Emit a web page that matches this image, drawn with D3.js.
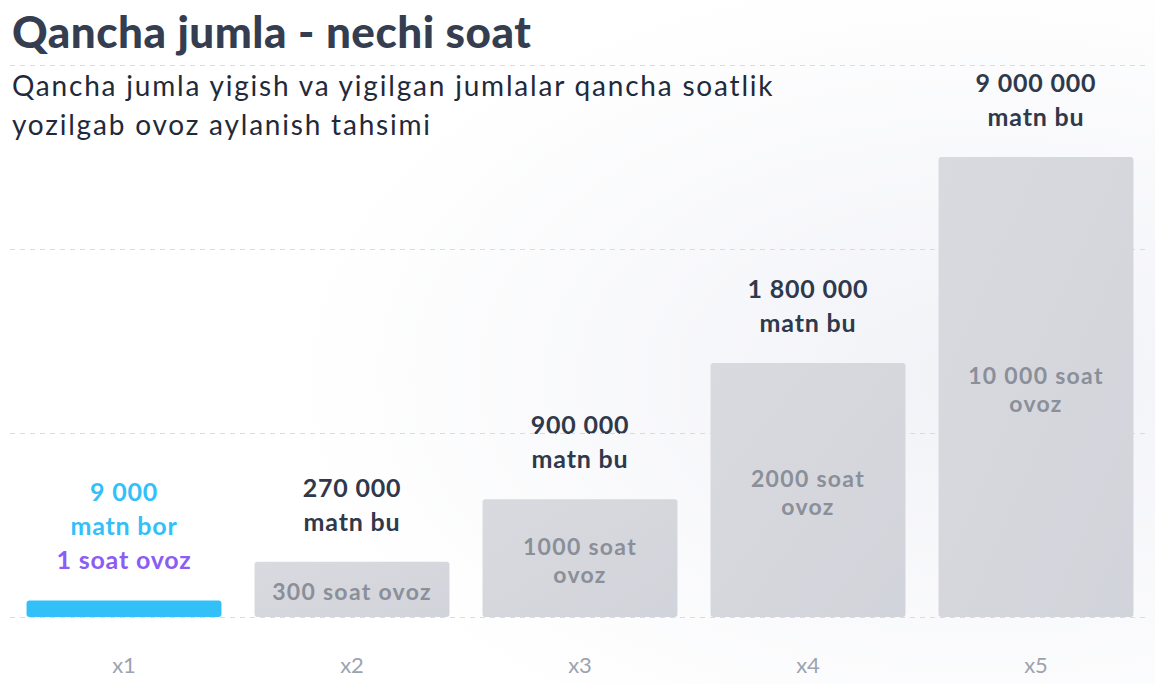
<!DOCTYPE html>
<html><head><meta charset="utf-8">
<script src="https://cdn.jsdelivr.net/npm/d3@7"></script>
<style>
html,body{margin:0;padding:0;background:#fff;}
svg{display:block;font-family:Lato,"Open Sans",sans-serif;}
</style></head>
<body><svg id="c" width="1155" height="684"></svg>
<script>
const categories = ["x1","x2","x3","x4","x5"];
const values = [9, 30, 64, 138, 250];
const topLabels = [["9 000","matn bor","1 soat ovoz"],["270 000","matn bu"],["900 000","matn bu"],["1 800 000","matn bu"],["9 000 000","matn bu"]];
const innerLabels = [[],["300 soat ovoz"],["1000 soat","ovoz"],["2000 soat","ovoz"],["10 000 soat","ovoz"]];
const gridTicks = [0, 100, 200, 300];
const title = "Qancha jumla - nechi soat";
const subtitle = ["Qancha jumla yigish va yigilgan jumlalar qancha soatlik","yozilgab ovoz aylanish tahsimi"];

const svg = d3.select("#c");
const W = 1155, H = 684;
const defs = svg.append("defs");
const rg = defs.append("radialGradient").attr("id","bg").attr("cx","0.85").attr("cy","0.55").attr("r","0.6");
rg.append("stop").attr("offset","0").attr("stop-color","#f1f2f7");
rg.append("stop").attr("offset","1").attr("stop-color","#ffffff");
svg.append("rect").attr("width",W).attr("height",H).attr("fill","url(#bg)");
const bg = defs.append("linearGradient").attr("id","barg").attr("x1","0").attr("y1","0").attr("x2","1").attr("y2","1");
bg.append("stop").attr("offset","0").attr("stop-color","#d9dadf");
bg.append("stop").attr("offset","1").attr("stop-color","#d2d4db");

const x = d3.scaleBand().domain(categories).range([10,1150]).paddingInner(0.145).paddingOuter(0.0725);
const y = d3.scaleLinear().domain([0,300]).range([617,65]);

const g = svg.append("g");
g.selectAll("rect.bar").data(values).join("rect")
  .attr("class","bar")
  .attr("x",(d,i)=>x(categories[i]))
  .attr("width",x.bandwidth())
  .attr("y",d=>y(d))
  .attr("height",d=>y(0)-y(d))
  .attr("rx",3)
  .attr("fill",(d,i)=> i===0 ? "#33bff8" : "url(#barg)");

const yAxis = d3.axisLeft(y).tickValues(gridTicks).tickSize(-(1150-10)).tickFormat("");
const ga = svg.append("g").attr("transform","translate(10,0)").call(yAxis);
ga.select(".domain").remove();
ga.selectAll(".tick line").attr("stroke","#d3d6dd").attr("stroke-dasharray","5,5").attr("stroke-opacity",0.85);

const xAxis = d3.axisBottom(x).tickSize(0).tickPadding(0);
const gx = svg.append("g").attr("transform","translate(0,673)").call(xAxis);
gx.select(".domain").remove();
gx.selectAll(".tick text").attr("font-family","Lato, sans-serif").attr("font-size",22).attr("fill","#9ca3af").attr("dy",0);

topLabels.forEach((lines,i)=>{
  const cx = x(categories[i]) + x.bandwidth()/2;
  const top = y(values[i]);
  const n = lines.length;
  lines.forEach((t,j)=>{
    let col = "#2f394b";
    if(i===0) col = j<2 ? "#33bff8" : "#8b5cf6";
    g.append("text").attr("x",cx).attr("y", top - 31 - (n-1-j)*34)
      .attr("text-anchor","middle").attr("font-size",25).attr("font-weight",700)
      .attr("letter-spacing",0.8).attr("fill",col).text(t);
  });
});
innerLabels.forEach((lines,i)=>{
  if(!lines.length) return;
  const cx = x(categories[i]) + x.bandwidth()/2;
  const mid = (y(values[i]) + y(0))/2;
  const n = lines.length;
  lines.forEach((t,j)=>{
    g.append("text").attr("x",cx).attr("y", mid + 11 + (j-(n-1)/2)*28)
      .attr("text-anchor","middle").attr("font-size",23).attr("font-weight",700)
      .attr("letter-spacing",1.3).attr("fill","#8a8f99").text(t);
  });
});

svg.append("text").attr("x",12).attr("y",48).attr("font-size",44).attr("font-weight",900)
  .attr("letter-spacing",0.5).attr("fill","#353e50").text(title);
subtitle.forEach((t,i)=>{
  svg.append("text").attr("x",12).attr("y",96+i*39).attr("font-size",28).attr("font-weight",400)
    .attr("letter-spacing",1.8).attr("fill","#1f2a3b").text(t);
});
</script></body></html>
